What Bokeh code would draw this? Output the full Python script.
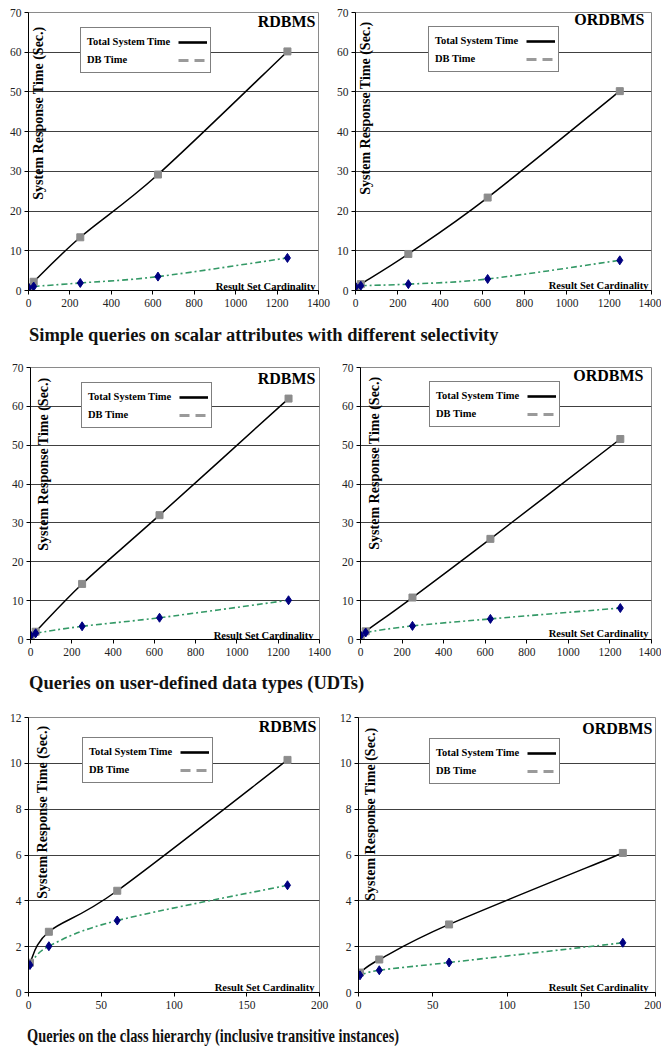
import math
from bokeh.plotting import figure
from bokeh.models import Range1d, Legend, LegendItem, Label, Div, FixedTicker
from bokeh.layouts import column, row
from bokeh.embed import file_html
from bokeh.resources import INLINE

# ---------------- data ----------------
card_x = [1, 25, 250, 625, 1250]
simple_rdbms_total = [0.8, 2.2, 13.4, 29.2, 60.2]
simple_rdbms_db = [0.7, 1.0, 1.9, 3.5, 8.2]
simple_ordbms_total = [0.8, 1.6, 9.2, 23.4, 50.2]
simple_ordbms_db = [0.9, 1.2, 1.6, 2.9, 7.6]
udt_rdbms_total = [1.0, 2.0, 14.3, 32.0, 62.0]
udt_rdbms_db = [1.0, 1.6, 3.4, 5.6, 10.1]
udt_ordbms_total = [1.0, 2.1, 10.8, 25.9, 51.6]
udt_ordbms_db = [1.0, 1.8, 3.5, 5.3, 8.1]

hier_x = [1, 14, 61, 178]
hier_rdbms_total = [1.3, 2.65, 4.44, 10.15]
hier_rdbms_db = [1.2, 2.02, 3.14, 4.68]
hier_ordbms_total = [0.87, 1.44, 2.97, 6.09]
hier_ordbms_db = [0.75, 0.97, 1.31, 2.17]

card_ticks = [0, 200, 400, 600, 800, 1000, 1200, 1400]
time70_ticks = [0, 10, 20, 30, 40, 50, 60, 70]
hier_ticks = [0, 50, 100, 150, 200]
time12_ticks = [0, 2, 4, 6, 8, 10, 12]

legend_labels = ["Total System Time", "DB Time"]
x_caption = "Result Set Cardinality"
y_caption = "System Response Time (Sec.)"
captions = [
    "Simple queries on scalar attributes with different selectivity",
    "Queries on user-defined data types (UDTs)",
    "Queries on the class hierarchy (inclusive transitive instances)",
]

SERIF = "Liberation Serif"
NARROW = "Liberation Sans Narrow"
NAN = float("nan")


def smooth(xs, ys):
    """Excel-like smoothed curve: cubic Bezier segments through the points."""
    n = len(xs)
    out = dict(x0=[], y0=[], x1=[], y1=[], cx0=[], cy0=[], cx1=[], cy1=[])
    for i in range(n - 1):
        xp, yp = (xs[i - 1], ys[i - 1]) if i > 0 else (xs[i], ys[i])
        xn, yn = (xs[i + 2], ys[i + 2]) if i + 2 < n else (xs[i + 1], ys[i + 1])
        out["x0"].append(xs[i]); out["y0"].append(ys[i])
        out["x1"].append(xs[i + 1]); out["y1"].append(ys[i + 1])
        out["cx0"].append(xs[i] + (xs[i + 1] - xp) / 6.0)
        out["cy0"].append(ys[i] + (ys[i + 1] - yp) / 6.0)
        out["cx1"].append(xs[i + 1] - (xn - xs[i]) / 6.0)
        out["cy1"].append(ys[i + 1] - (yn - ys[i]) / 6.0)
    return out


def panel(xs, total, db, xticks, yticks, title, w, h, bl, br, bt, bb,
          leg, ttl, ylab, card):
    x_end, y_end = xticks[-1], yticks[-1]
    p = figure(width=w, height=h, x_range=Range1d(0, x_end), y_range=Range1d(0, y_end),
               output_backend="svg", toolbar_location=None,
               min_border_left=bl, min_border_right=br, min_border_top=bt, min_border_bottom=bb,
               background_fill_color="white", border_fill_color="white")
    fh = h - bt - bb
    p.outline_line_color = "#8a8a8a"
    p.outline_line_width = 1
    p.xgrid.grid_line_color = None
    p.ygrid.grid_line_color = "#404040"
    p.ygrid.grid_line_width = 1
    p.xaxis.ticker = FixedTicker(ticks=xticks)
    p.yaxis.ticker = FixedTicker(ticks=yticks)
    p.ygrid.ticker = FixedTicker(ticks=yticks)
    for ax in (p.xaxis[0], p.yaxis[0]):
        ax.axis_line_color = "black"
        ax.axis_line_width = 1
        ax.major_tick_line_color = "black"
        ax.major_tick_out = 4
        ax.major_tick_in = 0
        ax.minor_tick_line_color = None
        ax.major_label_text_font = NARROW
        ax.major_label_text_font_size = "11.5px"
        ax.major_label_text_color = "#222222"
    p.xaxis.major_label_standoff = 4
    p.yaxis.major_label_standoff = 3

    # curves
    st = smooth(xs, total)
    p.bezier(x0=st["x0"], y0=st["y0"], x1=st["x1"], y1=st["y1"],
             cx0=st["cx0"], cy0=st["cy0"], cx1=st["cx1"], cy1=st["cy1"],
             line_color="black", line_width=1.5)
    sd = smooth(xs, db)
    p.bezier(x0=sd["x0"], y0=sd["y0"], x1=sd["x1"], y1=sd["y1"],
             cx0=sd["cx0"], cy0=sd["cy0"], cx1=sd["cx1"], cy1=sd["cy1"],
             line_color="#339966", line_width=1.6, line_dash="6 3 2 3")
    p.scatter(xs, total, marker="square", size=7, fill_color="#8c8c8c", line_color="#8c8c8c")
    p.scatter(xs, db, marker="diamond", size=9, fill_color="#000080", line_color="#000080")

    # legend-only renderers (one undrawable point so the legend draws their sample)
    r_tot = p.line([NAN], [NAN], line_color="black", line_width=2.6)
    r_db = p.line([NAN], [NAN], line_color="#9a9a9a", line_width=3, line_dash="10 6")
    ldx, ldy = leg
    # legend box with the texts on the left
    legA = Legend(items=[LegendItem(label=legend_labels[0], renderers=[r_tot]),
                         LegendItem(label=legend_labels[1], renderers=[r_db])],
                  location=(ldx, fh - ldy - 44), orientation="vertical",
                  glyph_width=0, glyph_height=18, label_height=18, label_width=119,
                  label_standoff=2, spacing=0, padding=4, margin=0,
                  border_line_color="black", border_line_width=1,
                  background_fill_color="white", background_fill_alpha=1.0,
                  label_text_font=SERIF, label_text_font_style="bold",
                  label_text_font_size="10.5px", label_text_color="black")
    # line samples on the right of the same box
    legB = Legend(items=[LegendItem(label=legend_labels[0], renderers=[r_tot]),
                         LegendItem(label=legend_labels[1], renderers=[r_db])],
                  location=(ldx + 98, fh - ldy - 40), orientation="vertical",
                  glyph_width=29, glyph_height=18, label_height=18,
                  label_standoff=0, spacing=0, padding=0, margin=0,
                  border_line_alpha=0, background_fill_alpha=0,
                  label_text_alpha=0, label_text_font_size="1px")
    legB.level = "overlay"
    p.add_layout(legA, "center")
    p.add_layout(legB, "center")

    tdx, tdy = ttl
    p.add_layout(Label(x=x_end, y=y_end, x_offset=-tdx, y_offset=tdy, text=title,
                       text_align="right", text_baseline="top", text_font=SERIF,
                       text_font_style="bold", text_font_size="16px", text_color="black"))
    ydx, ydy = ylab
    p.add_layout(Label(x=0, y=y_end, x_offset=ydx, y_offset=-ydy, text=y_caption,
                       angle=math.pi / 2, text_align="right", text_baseline="middle",
                       text_font=SERIF, text_font_style="bold", text_font_size="14px",
                       text_color="black"))
    cdx, cdy = card
    p.add_layout(Label(x=x_end, y=0, x_offset=-cdx, y_offset=cdy, text=x_caption,
                       text_align="right", text_baseline="alphabetic", text_font=SERIF,
                       text_font_style="bold", text_font_size="10.5px", text_color="black"))
    return p


def caption(text, height, size, extra=""):
    html = ('<div style="font-family:\'Liberation Serif\';font-weight:bold;'
            f'font-size:{size}px;line-height:{height}px;padding-left:29px;'
            f'white-space:nowrap;color:#111;{extra}">{text}</div>')
    return Div(text=html, width=661, height=height, margin=0)


# row 1 (figures start at page top-left)
p1 = panel(card_x, simple_rdbms_total, simple_rdbms_db, card_ticks, time70_ticks, "RDBMS",
           333, 318, 28, 15, 12, 28, (52, 17), (3, 0), (10, 14), (3, 4))
p2 = panel(card_x, simple_ordbms_total, simple_ordbms_db, card_ticks, time70_ticks, "ORDBMS",
           328, 318, 20, 10, 12, 27, (73, 17), (7, 2), (10, 9), (3, 5))
# row 2
p3 = panel(card_x, udt_rdbms_total, udt_rdbms_db, card_ticks, time70_ticks, "RDBMS",
           338, 315, 30, 19, 14, 28, (51, 18), (4, -2), (13, 10), (6, 4))
p4 = panel(card_x, udt_ordbms_total, udt_ordbms_db, card_ticks, time70_ticks, "ORDBMS",
           323, 315, 20, 10, 15, 26, (69, 18), (8, 1), (14, 9), (3, 6))
# row 3
p5 = panel(hier_x, hier_rdbms_total, hier_rdbms_db, hier_ticks, time12_ticks, "RDBMS",
           336, 321, 28, 17, 16, 28, (54, 24), (3, 0), (14, 8), (5, 5))
p6 = panel(hier_x, hier_ordbms_total, hier_ordbms_db, hier_ticks, time12_ticks, "ORDBMS",
           325, 321, 20, 6, 18, 28, (71, 23), (3, -2), (12, 10), (7, 5))

layout = column(
    row(p1, p2),
    caption(captions[0], 34, 18.5),
    row(p3, p4),
    caption(captions[1], 32, 18.5),
    row(p5, p6),
    caption(captions[2], 26, 18.5,
            "position:relative;top:3px;transform:scaleX(0.775);transform-origin:27px 50%;padding-left:27px;"),
)

open("out.html", "w").write(file_html(layout, INLINE))
